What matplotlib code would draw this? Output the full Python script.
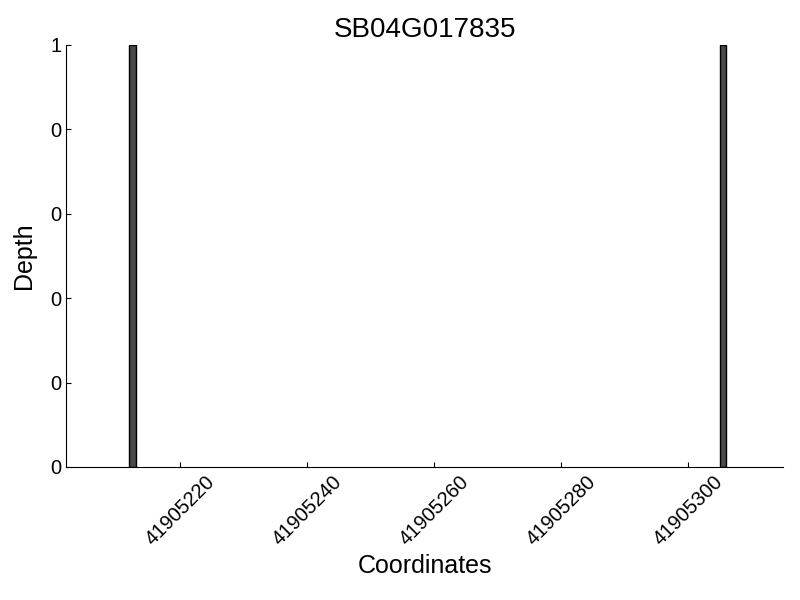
import matplotlib
matplotlib.use("Agg")
import matplotlib.pyplot as plt
from matplotlib.ticker import FormatStrFormatter

plt.rcParams['font.family'] = ['Liberation Sans', 'DejaVu Sans']

title = "SB04G017835"
positions = [41905212, 41905305]
depths = [1, 1]
xlim = (41905202, 41905315)
xticks = [41905220, 41905240, 41905260, 41905280, 41905300]
yticks = [0, 0.2, 0.4, 0.6, 0.8, 1.0]

fig = plt.figure(figsize=(8, 6), dpi=100)
ax = fig.add_axes([0.0825, 0.2217, 0.979 - 0.0825, 0.925 - 0.2217])
ax.bar(positions, depths, width=1, align='edge', color='#4a4a4a', edgecolor='black', linewidth=1)
ax.set_xlim(*xlim)
ax.set_ylim(0, 1)
ax.set_xticks(xticks)
ax.set_yticks(yticks)
ax.yaxis.set_major_formatter(FormatStrFormatter('%d'))
ax.xaxis.set_major_formatter(FormatStrFormatter('%d'))
for s in ['top', 'right']:
    ax.spines[s].set_visible(False)
ax.tick_params(direction='in', labelsize=14.5, top=False, right=False)
plt.setp(ax.get_xticklabels(), rotation=45)
ax.set_xlabel('Coordinates', fontsize=18)
ax.set_ylabel('Depth', fontsize=18, labelpad=10)
ax.set_title(title, fontsize=20)
fig.savefig('out.png', dpi=100)
